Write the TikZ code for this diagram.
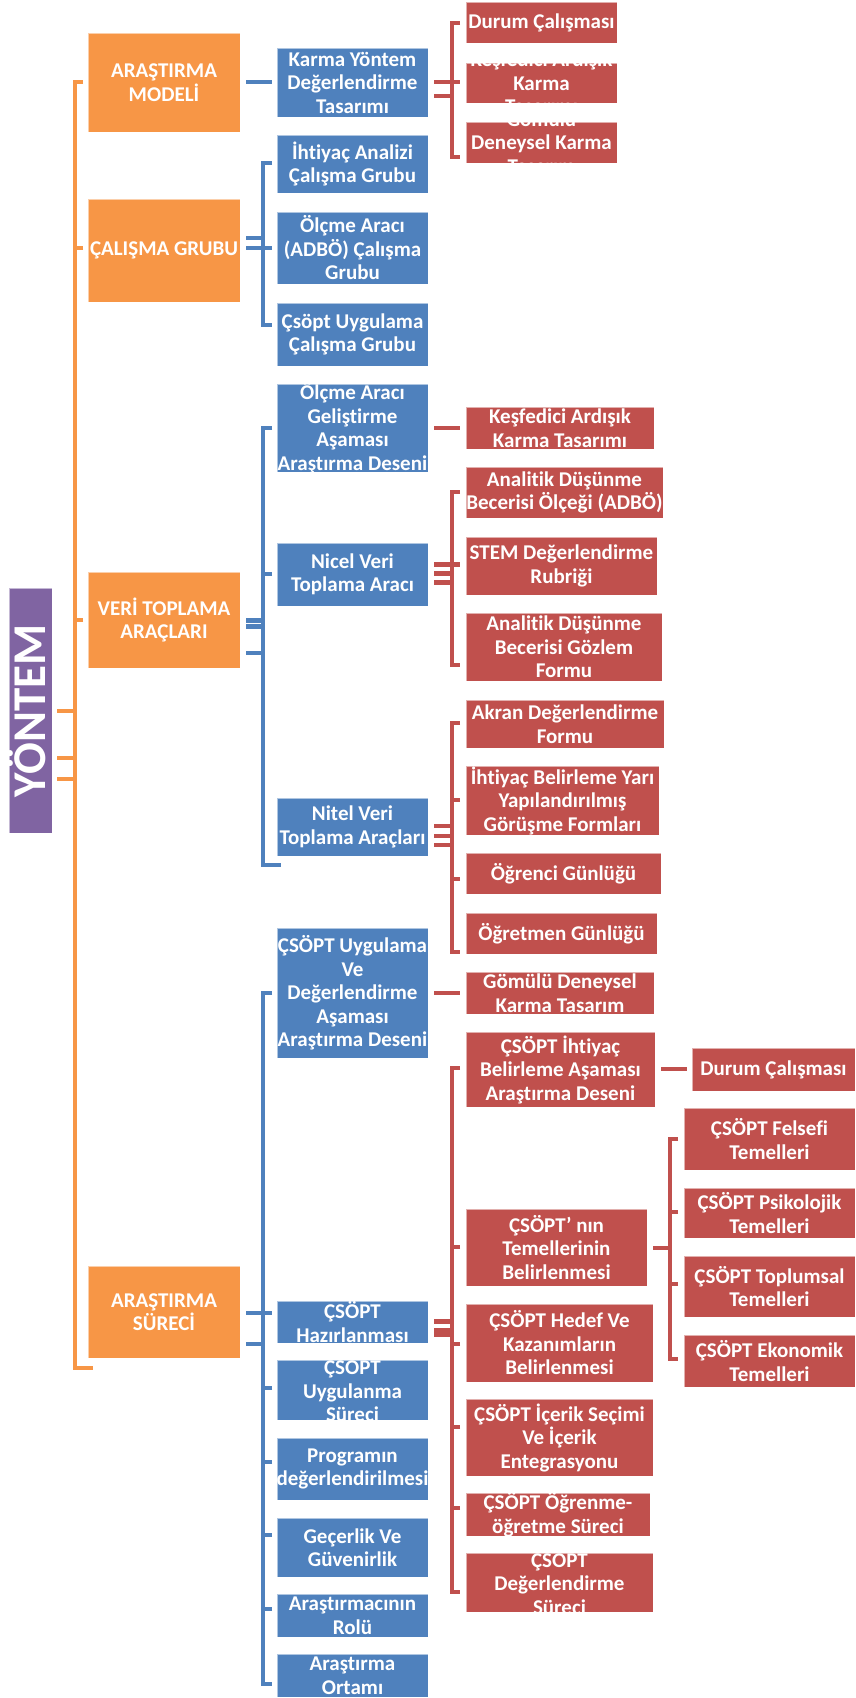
\documentclass[tikz,border=0pt]{standalone}
\usepackage{fontspec}
\setmainfont{Carlito}[Ligatures=NoCommon]
\usetikzlibrary{calc}
\definecolor{corange}{HTML}{F79646}
\definecolor{cblue}{HTML}{4F81BD}
\definecolor{cred}{HTML}{C0504D}
\definecolor{cpurple}{HTML}{8064A2}
\pgfdeclarelayer{bg}
\pgfsetlayers{bg,main}
\tikzset{
  card/.style={rectangle, inner sep=0pt, outer sep=0pt, draw=white, draw opacity=0.55, line width=1pt},
  ocard/.style={card, fill=corange},
  bcard/.style={card, fill=cblue},
  rcard/.style={card, fill=cred},
  pcard/.style={card, fill=cpurple},
  lbl/.style={inner sep=0pt, text=white, align=center, font=\fontsize{21}{23.5}\selectfont\bfseries},
  link/.style={line width=4.5pt},
  olink/.style={link, draw=corange},
  blink/.style={link, draw=cblue},
  rlink/.style={link, draw=cred},
}
% box: name, style, x1, y1, x2, y2, text  (pixel coordinates, y downwards)
\newcommand\mkcard[7]{%
  \node[#2, minimum width={(#5-#3)*1pt}, minimum height={(#6-#4)*1pt}] (#1) at ({(#3+#5)/2},{(#4+#6)/2}) {};
  \node[lbl] (#1t) at (#1.center) {#7};
}
\begin{document}
\begin{tikzpicture}[x=1pt, y=-1pt]
\useasboundingbox (0,0) rectangle (855,1698);

% root
\node[pcard, minimum width=43pt, minimum height=245pt] (Y) at (30.5,710.5) {};
\node[rotate=90, anchor=base, inner sep=0pt, text=white, font=\fontsize{47}{50}\selectfont\bfseries] (Yt) at ($(Y.center)+(15,0.5)$) {YÖNTEM};

% level 1
\mkcard{O1}{ocard}{88}{33}{240}{132}{ARAŞTIRMA\\MODELİ}
\mkcard{O2}{ocard}{88}{199}{240}{302}{ÇALIŞMA GRUBU}
\mkcard{O3}{ocard}{88}{572}{240}{668}{VERİ TOPLAMA\\ARAÇLARI}
\mkcard{O4}{ocard}{88}{1266}{240}{1358}{ARAŞTIRMA\\SÜRECİ}

% level 2
\mkcard{B1}{bcard}{277}{48}{428}{117}{Karma Yöntem\\Değerlendirme\\Tasarımı}
\mkcard{B2}{bcard}{277}{135}{428}{193}{İhtiyaç Analizi\\Çalışma Grubu}
\mkcard{B3}{bcard}{277}{212}{428}{284}{Ölçme Aracı\\(ADBÖ) Çalışma\\Grubu}
\mkcard{B4}{bcard}{277}{303}{428}{366}{Çsöpt Uygulama\\Çalışma Grubu}
\mkcard{B5}{bcard}{277}{384}{428}{472}{Ölçme Aracı\\Geliştirme\\Aşaması\\Araştırma Deseni}
\mkcard{B6}{bcard}{277}{543}{428}{606}{Nicel Veri\\Toplama Aracı}
\mkcard{B7}{bcard}{277}{798}{428}{856}{Nitel Veri\\Toplama Araçları}
\mkcard{B8}{bcard}{277}{928}{428}{1058}{ÇSÖPT Uygulama\\Ve\\Değerlendirme\\Aşaması\\Araştırma Deseni}
\mkcard{B9}{bcard}{277}{1301}{428}{1343}{ÇSÖPT\\Hazırlanması}
\mkcard{B10}{bcard}{277}{1360}{428}{1420}{ÇSÖPT\\Uygulanma\\Süreci}
\mkcard{B11}{bcard}{277}{1438}{428}{1500}{Programın\\değerlendirilmesi}
\mkcard{B12}{bcard}{277}{1518}{428}{1577}{Geçerlik Ve\\Güvenirlik}
\mkcard{B13}{bcard}{277}{1594}{428}{1637}{Araştırmacının\\Rolü}
\mkcard{B14}{bcard}{277}{1654}{428}{1697}{Araştırma\\Ortamı}

% level 3
\mkcard{R1}{rcard}{466}{2}{617}{43}{Durum Çalışması}
\mkcard{R2}{rcard}{466}{63}{617}{103}{Keşfedici Ardışık\\Karma\\Tasarımı}
\mkcard{R3}{rcard}{466}{122}{617}{163}{Gömülü\\Deneysel Karma\\Tasarım}
\mkcard{R4}{rcard}{466}{407}{654}{449}{Keşfedici Ardışık\\Karma Tasarımı}
\mkcard{R5}{rcard}{466}{467}{663}{518}{Analitik Düşünme\\Becerisi Ölçeği (ADBÖ)}
\mkcard{R6}{rcard}{466}{537}{657}{595}{STEM Değerlendirme\\Rubriği}
\mkcard{R7}{rcard}{466}{613}{662}{681}{Analitik Düşünme\\Becerisi Gözlem\\Formu}
\mkcard{R8}{rcard}{466}{700}{664}{748}{Akran Değerlendirme\\Formu}
\mkcard{R9}{rcard}{466}{766}{659}{835}{İhtiyaç Belirleme Yarı\\Yapılandırılmış\\Görüşme Formları}
\mkcard{R10}{rcard}{466}{853}{661}{894}{Öğrenci Günlüğü}
\mkcard{R11}{rcard}{466}{913}{657}{954}{Öğretmen Günlüğü}
\mkcard{R12}{rcard}{466}{972}{654}{1014}{Gömülü Deneysel\\Karma Tasarım}
\mkcard{R13}{rcard}{466}{1032}{655}{1107}{ÇSÖPT İhtiyaç\\Belirleme Aşaması\\Araştırma Deseni}
\mkcard{R15}{rcard}{466}{1209}{647}{1286}{ÇSÖPT’ nın\\Temellerinin\\Belirlenmesi}
\mkcard{R20}{rcard}{466}{1304}{653}{1382}{ÇSÖPT Hedef Ve\\Kazanımların\\Belirlenmesi}
\mkcard{R21}{rcard}{466}{1399}{653}{1476}{ÇSÖPT İçerik Seçimi\\Ve İçerik\\Entegrasyonu}
\mkcard{R22}{rcard}{466}{1493}{650}{1536}{ÇSÖPT Öğrenme-\\öğretme Süreci}
\mkcard{R23}{rcard}{466}{1553}{653}{1612}{ÇSÖPT\\Değerlendirme\\Süreci}

% level 4
\mkcard{R14}{rcard}{692}{1048}{855}{1091}{Durum Çalışması}
\mkcard{R16}{rcard}{684}{1108}{855}{1170}{ÇSÖPT Felsefi\\Temelleri}
\mkcard{R17}{rcard}{684}{1188}{855}{1238}{ÇSÖPT Psikolojik\\Temelleri}
\mkcard{R18}{rcard}{684}{1256}{855}{1317}{ÇSÖPT Toplumsal\\Temelleri}
\mkcard{R19}{rcard}{684}{1335}{855}{1387}{ÇSÖPT Ekonomik\\Temelleri}

\begin{pgfonlayer}{bg}
% page background, under the connectors
\fill[white] (0,0) rectangle (855,1698);

% root bracket
\draw[olink] ($(O1.west)+(-5,-0.5)$) -- ++(-8,0) |- ($(O4.west)+(5,56)$);
\draw[olink] ($(O2.west)+(-5,-2.5)$) -- ++(-8,0);
\draw[olink] ($(O3.west)+(-5,0)$) -- ++(-8,0);
\draw[olink] ($(Y.east)+(5,0.5)$) -- ++(18,0);
\draw[olink] ($(Y.east)+(5,47.5)$) -- ++(18,0);
\draw[olink] ($(Y.east)+(5,68.5)$) -- ++(18,0);

% ARAŞTIRMA MODELİ
\draw[blink] ($(O1.east)+(6,-0.5)$) -- ($(B1.west)+(-5,-0.5)$);
% ÇALIŞMA GRUBU
\draw[blink] ($(B2.west)+(-5,-1)$) -- ++(-9,0) |- ($(B4.west)+(-5,-9.5)$);
\draw[blink] ($(O2.east)+(6,-2.5)$) -- ($(B3.west)+(-5,0)$);
\draw[blink] ($(O2.east)+(6,-12.5)$) -- ++(17,0);
% VERİ TOPLAMA ARAÇLARI
\draw[blink] ($(B5.west)+(-5,0)$) -- ++(-9,0) |- ($(B7.west)+(4,38)$);
\draw[blink] ($(B6.west)+(-5,-0.5)$) -- ++(-9,0);
\draw[blink] ($(O3.east)+(6,0.3)$) -- ++(17,0);
\draw[blink] ($(O3.east)+(6,6.3)$) -- ++(17,0);
\draw[blink] ($(O3.east)+(6,33)$) -- ++(17,0);
% ARAŞTIRMA SÜRECİ
\draw[blink] ($(B8.west)+(-5,0)$) -- ++(-9,0) |- ($(B14.west)+(-5,8.5)$);
\draw[blink] ($(O4.east)+(6,1)$) -- ($(B9.west)+(-5,-9)$);
\draw[blink] ($(O4.east)+(6,32)$) -- ++(17,0);
\draw[blink] ($(B10.west)+(-5,-2)$) -- ++(-9,0);
\draw[blink] ($(B11.west)+(-5,-7)$) -- ++(-9,0);
\draw[blink] ($(B12.west)+(-5,-12.5)$) -- ++(-9,0);
\draw[blink] ($(B13.west)+(-5,-6.5)$) -- ++(-9,0);

% Karma Yöntem Değerlendirme Tasarımı
\draw[rlink] ($(R1.west)+(-6,0.5)$) -- ++(-8,0) |- ($(R3.west)+(-6,14.5)$);
\draw[rlink] ($(B1.east)+(6,-0.5)$) -- ($(R2.west)+(-6,-1)$);
\draw[rlink] ($(B1.east)+(6,13.5)$) -- ++(18,0);
% Ölçme Aracı Geliştirme
\draw[rlink] ($(B5.east)+(6,0)$) -- ($(R4.west)+(-6,0)$);
% Nicel Veri
\draw[rlink] ($(R5.west)+(-6,-0.5)$) -- ++(-8,0) |- ($(R7.west)+(-6,18)$);
\draw[rlink] ($(B6.east)+(6,-10)$) -- ($(R6.west)+(-6,-1.5)$);
\draw[rlink] ($(B6.east)+(6,-1)$) -- ++(18,0);
\draw[rlink] ($(B6.east)+(6,8)$) -- ++(18,0);
% Nitel Veri
\draw[rlink] ($(R8.west)+(-6,-1)$) -- ++(-8,0) |- ($(R11.west)+(-6,18.5)$);
\draw[rlink] ($(R9.west)+(-6,-0.5)$) -- ++(-8,0);
\draw[rlink] ($(R10.west)+(-6,5.5)$) -- ++(-8,0);
\draw[rlink] ($(B7.east)+(6,-1)$) -- ++(18,0);
\draw[rlink] ($(B7.east)+(6,9)$) -- ++(18,0);
\draw[rlink] ($(B7.east)+(6,18)$) -- ++(18,0);
% ÇSÖPT Uygulama Ve Değerlendirme
\draw[rlink] ($(B8.east)+(6,0)$) -- ($(R12.west)+(-6,0)$);
% ÇSÖPT Hazırlanması
\draw[rlink] ($(R13.west)+(-6,-1.5)$) -- ++(-8,0) |- ($(R23.west)+(-6,9.5)$);
\draw[rlink] ($(R15.west)+(-6,-0.5)$) -- ++(-8,0);
\draw[rlink] ($(R20.west)+(-6,1)$) -- ++(-8,0);
\draw[rlink] ($(R21.west)+(-6,-10.5)$) -- ++(-8,0);
\draw[rlink] ($(R22.west)+(-6,-6.5)$) -- ++(-8,0);
\draw[rlink] ($(B9.east)+(6,-0.5)$) -- ++(18,0);
\draw[rlink] ($(B9.east)+(6,8.5)$) -- ++(18,0);
\draw[rlink] ($(B9.east)+(6,13)$) -- ++(18,0);
% ÇSÖPT İhtiyaç Belirleme
\draw[rlink] ($(R13.east)+(6,-0.5)$) -- ($(R14.west)+(-5,-0.5)$);
% ÇSÖPT'nın Temelleri
\draw[rlink] ($(R16.west)+(-6,0)$) -- ++(-8,0) |- ($(R19.west)+(-6,-2)$);
\draw[rlink] ($(R17.west)+(-6,-1)$) -- ++(-8,0);
\draw[rlink] ($(R18.west)+(-6,-2.5)$) -- ++(-8,0);
\draw[rlink] ($(R15.east)+(6,0.5)$) -- ++(17,0);
\end{pgfonlayer}
\end{tikzpicture}
\end{document}
